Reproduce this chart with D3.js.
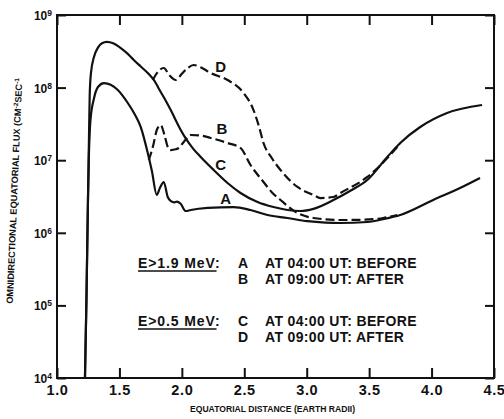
<!DOCTYPE html>
<html>
<head>
<meta charset="utf-8">
<script src="https://cdn.jsdelivr.net/npm/d3@7/dist/d3.min.js"></script>
<style>
  html, body { margin: 0; padding: 0; background: #fff; }
  svg { display: block; }
  text { font-family: "Liberation Sans", Arial, sans-serif; font-weight: bold; fill: #111; }
</style>
</head>
<body>
<svg id="chart" width="504" height="419"></svg>
<script>
// ---- data (x = equatorial distance in Earth radii, v = log10 flux) ----
const xTickValues = [1.0, 1.5, 2.0, 2.5, 3.0, 3.5, 4.0, 4.5];
const xTickLabels = ["1.0", "1.5", "2.0", "2.5", "3.0", "3.5", "4.0", "4.5"];
const yTickValues = [1e4, 1e5, 1e6, 1e7, 1e8, 1e9];
const yTickExponents = ["4", "5", "6", "7", "8", "9"];

// A: E>1.9 MeV at 04:00 UT (before) - solid
const curveA_x = [1.224, 1.236, 1.248, 1.256, 1.268, 1.296, 1.328, 1.376, 1.43, 1.487, 1.567, 1.62, 1.671, 1.727, 1.76, 1.799, 1.825, 1.855, 1.887, 1.91, 1.94, 1.96, 1.99, 2.031, 2.071, 2.207, 2.414, 2.55, 2.686, 2.846, 3.006, 3.15, 3.269, 3.485, 3.62, 3.749, 4.013, 4.228, 4.388];
const curveA_v = [4.0, 5.1, 6.45, 7.1, 7.55, 7.85, 8.008, 8.063, 8.04, 7.967, 7.788, 7.64, 7.457, 7.099, 6.85, 6.521, 6.62, 6.70, 6.493, 6.44, 6.42, 6.43, 6.40, 6.30, 6.314, 6.342, 6.355, 6.314, 6.245, 6.204, 6.16, 6.14, 6.135, 6.149, 6.19, 6.245, 6.452, 6.617, 6.755];

// B: E>1.9 MeV at 09:00 UT (after) - dashed
const curveB_x = [1.735, 1.77, 1.80, 1.831, 1.86, 1.89, 1.911, 1.95, 1.975, 2.015, 2.071, 2.151, 2.231, 2.366, 2.47, 2.55, 2.654, 2.72, 2.79, 2.926, 3.054, 3.269, 3.45, 3.613, 3.725];
const curveB_v = [7.0, 7.2, 7.42, 7.485, 7.35, 7.17, 7.14, 7.15, 7.168, 7.25, 7.347, 7.34, 7.306, 7.237, 7.168, 6.934, 6.70, 6.56, 6.452, 6.273, 6.204, 6.176, 6.18, 6.204, 6.245];

// C: E>0.5 MeV at 04:00 UT (before) - solid
const curveC_x = [1.224, 1.236, 1.248, 1.256, 1.262, 1.272, 1.296, 1.328, 1.36, 1.40, 1.45, 1.511, 1.567, 1.615, 1.671, 1.727, 1.775, 1.831, 1.871, 1.911, 1.951, 1.991, 2.031, 2.09, 2.151, 2.255, 2.366, 2.47, 2.606, 2.734, 2.846, 2.95, 3.054, 3.214, 3.35, 3.485, 3.645, 3.749, 3.909, 4.124, 4.404];
const curveC_v = [4.0, 5.1, 6.45, 7.3, 7.9, 8.2, 8.421, 8.55, 8.61, 8.63, 8.61, 8.545, 8.465, 8.38, 8.29, 8.201, 8.105, 7.939, 7.82, 7.691, 7.55, 7.416, 7.30, 7.16, 7.044, 6.865, 6.686, 6.548, 6.424, 6.355, 6.314, 6.30, 6.33, 6.452, 6.58, 6.727, 7.044, 7.237, 7.457, 7.65, 7.76];

// D: E>0.5 MeV at 09:00 UT (after) - dashed
const curveD_x = [1.767, 1.80, 1.855, 1.90, 1.951, 2.00, 2.047, 2.095, 2.15, 2.231, 2.366, 2.494, 2.574, 2.62, 2.654, 2.72, 2.79, 2.926, 3.054, 3.11, 3.214, 3.269, 3.485, 3.669, 3.749];
const curveD_v = [8.105, 8.2, 8.27, 8.17, 8.105, 8.19, 8.27, 8.311, 8.28, 8.201, 8.105, 7.926, 7.691, 7.45, 7.237, 7.03, 6.865, 6.631, 6.521, 6.479, 6.493, 6.548, 6.769, 7.072, 7.23];

const curveLabels = ["A", "B", "C", "D"];
const labelPos = [[2.35, 6.40], [2.32, 7.36], [2.31, 6.865], [2.31, 8.215]];

const legendGroups = ["E>1.9 MeV:", "E>0.5 MeV:"];
const legendKeys = ["A", "B", "C", "D"];
const legendTexts = ["AT 04:00 UT: BEFORE", "AT 09:00 UT: AFTER", "AT 04:00 UT: BEFORE", "AT 09:00 UT: AFTER"];

const xTitle = "EQUATORIAL DISTANCE (EARTH RADII)";

// ---- layout ----
const L = 57, R = 494, T = 15, B = 378;
const svg = d3.select("#chart");
const ink = "#111";

const x = d3.scaleLinear().domain([1, 4.5]).range([L, R]);
const y = d3.scaleLog().domain([1e4, 1e9]).range([B, T]);

// axes ticks (inward)
const gB = svg.append("g").attr("transform", `translate(0,${B})`)
  .call(d3.axisBottom(x).tickValues(xTickValues).tickSize(-10).tickPadding(7)
    .tickFormat((d, i) => xTickLabels[i]));
gB.selectAll("text").attr("font-size", 14.5).attr("letter-spacing", 0.6).attr("dy", "0.71em").attr("fill", ink);
const gT = svg.append("g").attr("transform", `translate(0,${T})`)
  .call(d3.axisTop(x).tickValues(xTickValues).tickSize(-10).tickFormat(""));
const gL = svg.append("g").attr("transform", `translate(${L},0)`)
  .call(d3.axisLeft(y).tickValues(yTickValues).tickSize(-9).tickFormat(""));
const gR = svg.append("g").attr("transform", `translate(${R},0)`)
  .call(d3.axisRight(y).tickValues(yTickValues).tickSize(-9).tickFormat(""));
[gB, gT, gL, gR].forEach(g => {
  g.select(".domain").remove();
  g.selectAll("line").attr("stroke", ink).attr("stroke-width", 2);
});

// y tick labels 10^n
yTickValues.forEach((v, i) => {
  const t = svg.append("text")
    .attr("x", L - 5).attr("y", y(v) + 5)
    .attr("text-anchor", "end").attr("font-size", 12);
  t.append("tspan").text("10");
  t.append("tspan").attr("font-size", 8.5).attr("dy", -4).text(yTickExponents[i]);
});

// frame
svg.append("rect").attr("x", L).attr("y", T).attr("width", R - L).attr("height", B - T)
  .attr("fill", "none").attr("stroke", ink).attr("stroke-width", 2);

// curves
const line = d3.line().x(d => x(d[0])).y(d => y(Math.pow(10, d[1]))).curve(d3.curveMonotoneX);
const series = [
  { xs: curveA_x, vs: curveA_v, dash: null },
  { xs: curveB_x, vs: curveB_v, dash: "9,4" },
  { xs: curveC_x, vs: curveC_v, dash: null },
  { xs: curveD_x, vs: curveD_v, dash: "9,4" }
];
series.forEach(s => {
  const pts = s.xs.map((xx, i) => [xx, s.vs[i]]);
  svg.append("path").datum(pts).attr("d", line)
    .attr("fill", "none").attr("stroke", ink).attr("stroke-width", 2.2)
    .attr("stroke-linejoin", "round")
    .attr("stroke-dasharray", s.dash);
});

// curve labels
curveLabels.forEach((lab, i) => {
  svg.append("text").attr("x", x(labelPos[i][0])).attr("y", y(Math.pow(10, labelPos[i][1])))
    .attr("text-anchor", "middle").attr("font-size", 15).text(lab);
});

// legend
const rowBase = [268, 284, 326, 342];
const legendFont = 14;
legendGroups.forEach((g, gi) => {
  const t = svg.append("text").attr("x", 138).attr("y", rowBase[gi * 2])
    .attr("font-size", legendFont).attr("letter-spacing", 0.9).text(g);
  const bb = t.node().getBBox();
  svg.append("line").attr("x1", bb.x).attr("x2", bb.x + bb.width - 4)
    .attr("y1", rowBase[gi * 2] + 3).attr("y2", rowBase[gi * 2] + 3)
    .attr("stroke", ink).attr("stroke-width", 1.6);
});
legendKeys.forEach((k, i) => {
  svg.append("text").attr("x", 238).attr("y", rowBase[i]).attr("font-size", legendFont).text(k);
  svg.append("text").attr("x", 265).attr("y", rowBase[i]).attr("font-size", legendFont)
    .attr("letter-spacing", 0.35).text(legendTexts[i]);
});

// axis titles
svg.append("text").attr("x", (175 + 370) / 2).attr("y", 412).attr("text-anchor", "middle")
  .attr("font-size", 8.6).text(xTitle);

const yt = svg.append("text").attr("transform", "translate(17.5,191) rotate(-87.6)")
  .attr("text-anchor", "middle").attr("font-size", 9.2);
yt.append("tspan").text("OMNIDIRECTIONAL EQUATORIAL FLUX (CM");
yt.append("tspan").attr("font-size", 6.5).attr("dy", -3).text("-2");
yt.append("tspan").attr("dy", 3).text("SEC");
yt.append("tspan").attr("font-size", 6.5).attr("dy", -3).text("-1");
</script>
</body>
</html>
